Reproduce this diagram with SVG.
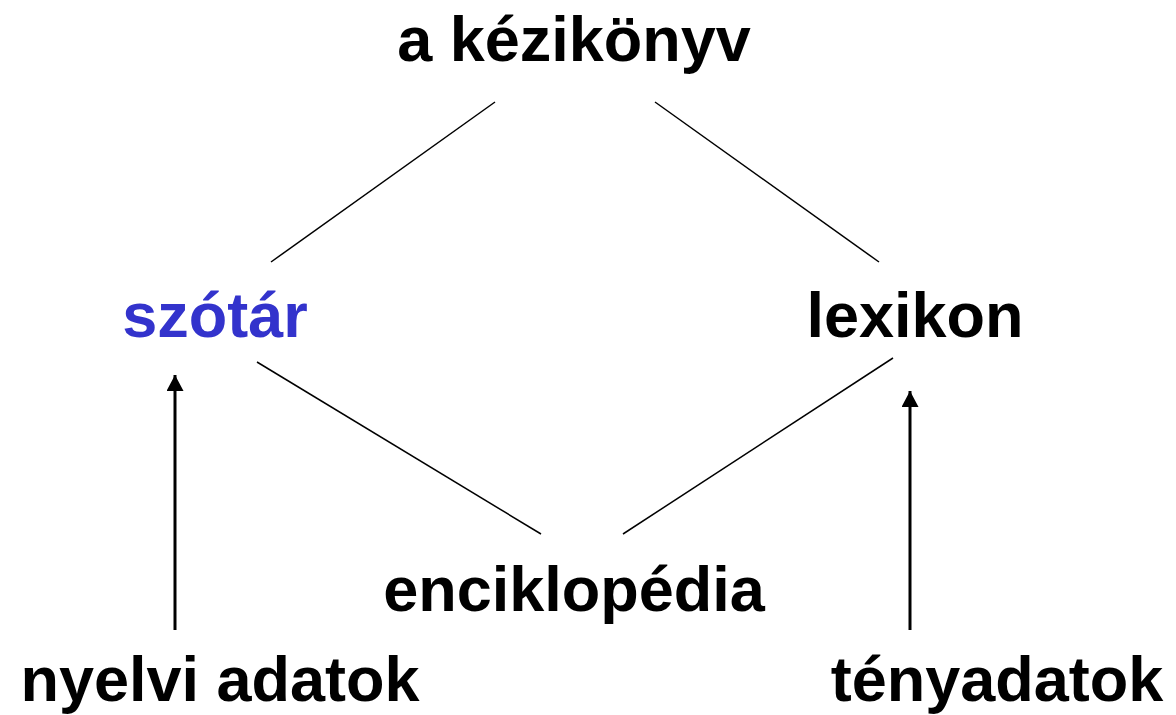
<svg xmlns="http://www.w3.org/2000/svg" width="1176" height="715" viewBox="0 0 1176 715">
<style>
text{font-family:"Liberation Sans",Arial,sans-serif;font-weight:bold;font-size:63px;text-anchor:middle;fill:#000}
.blue{fill:#3333CC}
.ln{stroke:#000;stroke-width:1.5;fill:none}
.ar{stroke:#000;stroke-width:3;fill:none;marker-end:url(#ah)}
</style>
<defs>
<marker id="ah" markerUnits="userSpaceOnUse" markerWidth="17" markerHeight="17" refX="16" refY="8.5" orient="auto">
<path d="M0,0 L16,8.5 L0,17 Z" fill="#000"/>
</marker>
</defs>
<rect width="1176" height="715" fill="#fff"/>
<g id="connectors">
<line class="ln" x1="495" y1="102" x2="271" y2="262"/>
<line class="ln" x1="655" y1="102" x2="879" y2="262"/>
<line class="ln" x1="257" y1="362" x2="541" y2="534"/>
<line class="ln" x1="893" y1="358" x2="623" y2="534"/>
<line class="ar" x1="175" y1="630" x2="175" y2="375"/>
<line class="ar" x1="910" y1="630" x2="910" y2="391"/>
</g>
<g id="kezikonyv"><text x="574" y="61">a kézikönyv</text></g>
<g id="szotar"><text class="blue" x="215" y="337">szótár</text></g>
<g id="lexikon"><text x="915" y="337">lexikon</text></g>
<g id="enciklopedia"><text x="574" y="611">enciklopédia</text></g>
<g id="nyelvi"><text x="220" y="701">nyelvi adatok</text></g>
<g id="tenyadatok"><text x="997" y="701">tényadatok</text></g>
</svg>
